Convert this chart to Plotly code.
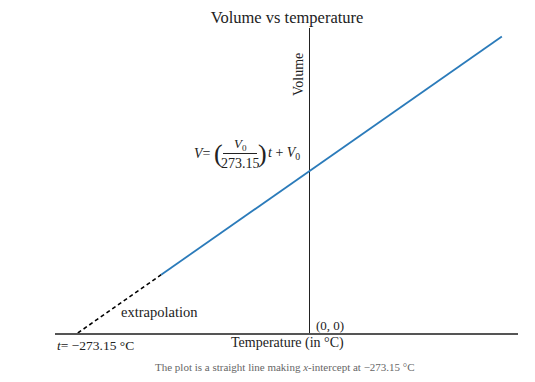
import plotly.graph_objects as go

# Data (V0 taken as 100 units of volume)
temp_extrap = [-273.15, -175.0]
vol_extrap = [0.0, 35.93]
temp_measured = [-175.0, 226.0]
vol_measured = [35.93, 182.74]

X_RANGE = [-300, 245]
Y_RANGE = [0, 188]

W, H = 535, 382
OFF = 8  # page body margin
# plot box in screen pixels
SL, SR, ST, SB = 55, 518, 28, 333
ML, MR, MT, MB = SL - OFF, W - (SR - OFF), ST - OFF, H - (SB - OFF)
PW, PH = SR - SL, SB - ST

def px2paper(px):
    return (px - SL) / PW

def py2paper(py):
    return (SB - py) / PH

def dx(px):
    return X_RANGE[0] + px2paper(px) * (X_RANGE[1] - X_RANGE[0])

def dy(py):
    return Y_RANGE[0] + py2paper(py) * (Y_RANGE[1] - Y_RANGE[0])

FONT = "Liberation Serif"

fig = go.Figure()
fig.add_trace(go.Scatter(x=temp_extrap, y=vol_extrap, mode="lines",
                         line=dict(color="black", width=1.6, dash="4px,3px"),
                         hoverinfo="skip", showlegend=False))
fig.add_trace(go.Scatter(x=temp_measured, y=vol_measured, mode="lines",
                         line=dict(color="#2b7bba", width=1.8),
                         hoverinfo="skip", showlegend=False))

ann = []
def A(text, px, py, size=13, xanchor="center", yanchor="middle", color="#222", angle=0):
    ann.append(dict(text=text, x=px2paper(px), y=py2paper(py), xref="paper", yref="paper",
                    showarrow=False, xanchor=xanchor, yanchor=yanchor,
                    textangle=angle, font=dict(family=FONT, size=size, color=color)))

A("Volume", 298, 75, size=14, angle=-90)
A("<i>V</i>=", 213, 153, size=14, xanchor="right")
A("(", 218, 153, size=26)
A("<i>V</i><sub>0</sub>", 240, 144, size=13)
A("273.15", 240, 163, size=14)
A(")", 262, 153, size=26)
A("<i>t</i> + <i>V</i><sub>0</sub>", 266, 153, size=14, xanchor="left")
A("extrapolation", 159, 312, size=14.5)
A("<i>t</i>= −273.15 °C", 55, 345, size=13.5, xanchor="left")
A("Temperature (in °C)", 287, 343, size=14)
A("(0, 0)", 314, 325, size=13, xanchor="left")
A("The plot is a straight line making <i>x</i>-intercept at −273.15 °C", 285, 367,
  size=11, color="#666")

fig.add_shape(type="line", x0=dx(223), x1=dx(257), y0=dy(153.5), y1=dy(153.5),
              xref="x", yref="y", line=dict(color="#222", width=1))

fig.update_layout(
    width=W, height=H,
    margin=dict(l=ML, r=MR, t=MT, b=MB),
    paper_bgcolor="white", plot_bgcolor="white",
    title=dict(text="Volume vs temperature", x=(287 - OFF) / W, xanchor="center",
               y=1 - (17 - OFF) / H, yanchor="middle",
               font=dict(family=FONT, size=16.5, color="#222")),
    xaxis=dict(range=X_RANGE, showgrid=False, showticklabels=False, ticks="",
               zeroline=True, zerolinecolor="#222", zerolinewidth=1.2,
               showline=True, linecolor="#555", linewidth=1.5, mirror=False,
               fixedrange=True),
    yaxis=dict(range=Y_RANGE, showgrid=False, showticklabels=False, ticks="",
               zeroline=False, showline=False, fixedrange=True),
    annotations=ann,
    showlegend=False,
)

fig.write_html("out.html")
